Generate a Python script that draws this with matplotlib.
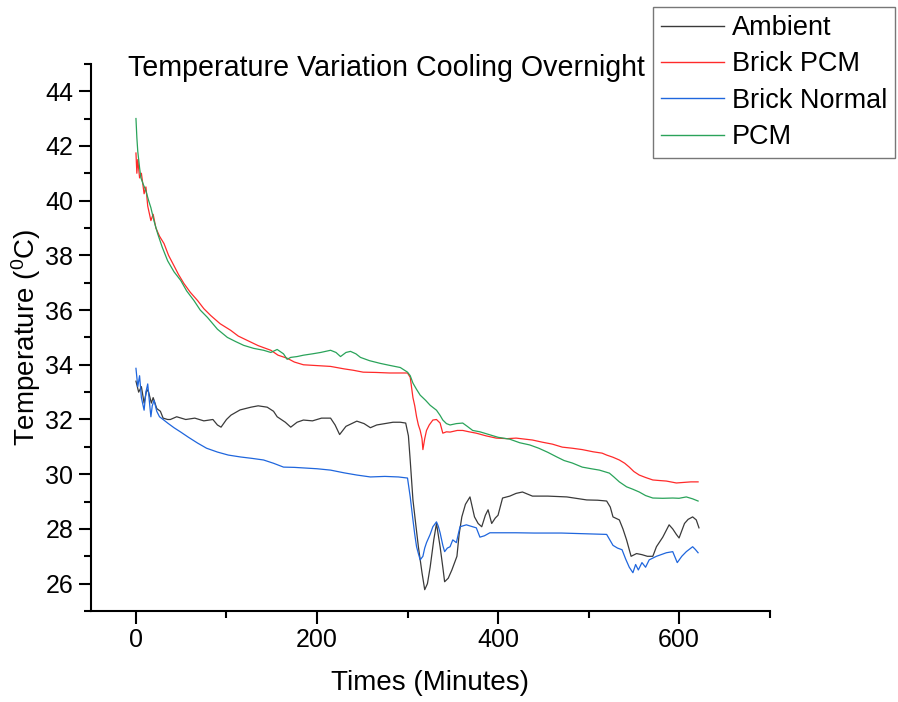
import matplotlib
matplotlib.use("Agg")
import matplotlib.pyplot as plt
from matplotlib.ticker import MultipleLocator

plt.rcParams['font.family'] = ['Liberation Sans', 'DejaVu Sans']

# Ambient
amb_t = [0, 3, 6, 9, 12, 14, 17, 19, 23, 27, 30, 35, 38, 45, 55, 65, 75, 85, 90, 94,
         100, 105, 115, 127, 135, 145, 152, 156, 165, 171, 178, 185, 195, 205, 215, 220,
         225, 232, 244, 252, 259, 266, 275, 284, 292, 298, 301, 303, 306, 309, 312, 316,
         319, 322, 325, 329, 332, 336, 339, 341, 345, 349, 354.6, 357, 360, 364, 369, 374,
         378, 382, 386, 389, 393, 397, 400, 405, 413, 420, 427, 438, 455, 476, 498, 510,
         520, 524, 527, 534, 538, 542, 547, 553, 559, 565, 571, 575, 582, 589, 593, 597,
         600, 606, 610, 615, 619, 622]
amb_T = [33.4, 33.0, 33.2, 32.6, 33.1, 33.0, 32.6, 32.8, 32.4, 32.3, 32.05, 32.0, 32.0,
         32.1, 32.0, 32.05, 31.95, 32.0, 31.8, 31.72, 32.0, 32.16, 32.35, 32.45, 32.5,
         32.45, 32.3, 32.1, 31.9, 31.72, 31.9, 31.98, 31.95, 32.05, 32.05, 31.8, 31.45,
         31.75, 31.94, 31.85, 31.7, 31.8, 31.85, 31.9, 31.9, 31.87, 31.4, 30.5, 29.06,
         28.2, 27.35, 26.4, 25.78, 26.0, 26.6, 27.6, 28.2, 27.35, 26.6, 26.07, 26.2, 26.5,
         27.0, 27.8, 28.44, 28.9, 29.17, 28.44, 28.2, 28.08, 28.5, 28.7, 28.2, 28.4, 28.5,
         29.13, 29.2, 29.3, 29.35, 29.2, 29.2, 29.17, 29.06, 29.05, 29.02, 28.8, 28.44,
         28.33, 28.0, 27.6, 27.0, 27.1, 27.06, 27.0, 27.0, 27.35, 27.7, 28.15, 28.0, 27.8,
         27.67, 28.2, 28.35, 28.44, 28.33, 28.04]

# Brick PCM
bpcm_t = [0, 1, 2, 4, 6, 9, 11, 13, 16.5, 19, 22, 26, 31, 36, 42, 47, 53, 60, 68, 75,
          82.6, 93, 104.6, 113, 123, 135, 149, 157, 167, 175, 185, 200, 215, 230, 240,
          251, 265, 280, 300, 303, 306, 308, 310, 312, 314, 316, 317, 319, 321, 324, 328,
          332, 336, 339, 343, 347, 355, 361, 368, 376, 387, 398, 410, 420, 438, 449, 460,
          471, 482, 493, 505, 515, 520, 527, 534, 540, 545, 550, 556, 563, 571, 578, 586,
          597, 605, 613, 621]
bpcm_T = [41.74, 41.0, 41.5, 40.83, 41.0, 40.25, 40.5, 39.8, 39.27, 39.5, 39.0, 38.7,
          38.43, 38.0, 37.62, 37.3, 36.97, 36.65, 36.35, 36.05, 35.8, 35.5, 35.26, 35.05,
          34.89, 34.7, 34.53, 34.35, 34.24, 34.1, 34.0, 33.97, 33.94, 33.85, 33.8, 33.73,
          33.72, 33.7, 33.7, 33.54, 32.8, 32.5, 32.1, 31.8, 31.6, 31.3, 30.9, 31.3, 31.6,
          31.8, 31.98, 32.0, 31.87, 31.5, 31.55, 31.54, 31.6, 31.6, 31.55, 31.5, 31.4,
          31.32, 31.3, 31.32, 31.25, 31.17, 31.1, 30.99, 30.95, 30.9, 30.82, 30.77, 30.7,
          30.62, 30.52, 30.4, 30.26, 30.1, 29.97, 29.88, 29.79, 29.77, 29.75, 29.68, 29.7,
          29.72, 29.72]

# Brick Normal
bn_t = [0, 2, 4, 6, 9, 11, 13, 15, 16.5, 18, 20, 23, 26, 30, 35, 42, 49.5, 58, 68, 78,
        90, 102, 115.6, 128, 141, 152, 163, 175, 185, 200, 215, 230, 244, 259, 275, 290,
        300, 303, 306, 308, 310, 312, 314, 317, 319, 321, 325, 328, 332, 334, 336, 339,
        341, 344, 347, 350, 354, 356, 358, 365, 370, 376, 380, 385, 391, 405, 420, 440,
        470, 500, 520, 527, 532, 537, 541, 545, 549, 552, 555, 559, 563, 567, 575, 586,
        593, 598, 603, 608, 615, 618, 621]
bn_T = [33.87, 33.2, 33.6, 32.8, 32.34, 33.0, 33.3, 32.6, 32.1, 32.5, 32.7, 32.3, 32.1,
        32.0, 31.87, 31.7, 31.54, 31.35, 31.14, 30.95, 30.81, 30.7, 30.63, 30.58, 30.52,
        30.4, 30.26, 30.25, 30.23, 30.2, 30.15, 30.05, 29.97, 29.9, 29.92, 29.9, 29.86,
        29.17, 28.33, 27.8, 27.35, 27.1, 26.87, 27.0, 27.3, 27.5, 27.8, 28.08, 28.26,
        28.1, 27.86, 27.4, 27.17, 27.3, 27.35, 27.6, 27.5, 27.8, 28.08, 28.15, 28.1,
        28.04, 27.7, 27.75, 27.86, 27.86, 27.86, 27.85, 27.85, 27.82, 27.8, 27.4, 27.3,
        27.24, 26.9, 26.6, 26.4, 26.7, 26.5, 26.77, 26.6, 26.87, 27.0, 27.13, 27.17,
        26.77, 27.0, 27.17, 27.35, 27.25, 27.13]

# PCM
pcm_t = [0, 1, 2, 4, 5.5, 8, 11, 14, 16.5, 20, 24, 29, 35, 42, 49.5, 56, 64, 71, 79, 90,
         101, 110, 119, 130, 141, 149, 156, 163, 167, 171, 178, 185, 195, 204, 215, 221,
         226, 232, 237, 243, 248, 258, 270, 280, 292, 300, 303, 306, 310, 314, 320, 325,
         332, 336, 339, 343, 347, 354, 361, 366, 372, 380, 388, 400, 413, 424, 435, 445,
         455, 465, 473, 482, 493, 503, 512, 523, 528, 534, 542, 549, 556, 563, 571, 582,
         593, 600, 608, 615, 621]
pcm_T = [43.0, 42.3, 41.8, 41.2, 40.83, 40.6, 40.36, 40.0, 39.74, 39.25, 38.79, 38.3,
         37.8, 37.4, 37.08, 36.7, 36.35, 36.0, 35.73, 35.3, 35.0, 34.85, 34.71, 34.6,
         34.53, 34.45, 34.56, 34.4, 34.2, 34.27, 34.3, 34.35, 34.4, 34.45, 34.53, 34.45,
         34.3, 34.45, 34.49, 34.4, 34.27, 34.15, 34.05, 33.98, 33.9, 33.73, 33.6, 33.33,
         33.1, 32.89, 32.7, 32.52, 32.34, 32.15, 31.98, 31.85, 31.8, 31.85, 31.87, 31.75,
         31.6, 31.55, 31.47, 31.35, 31.28, 31.15, 31.07, 30.95, 30.8, 30.63, 30.5, 30.41,
         30.26, 30.2, 30.15, 30.04, 29.9, 29.72, 29.54, 29.45, 29.35, 29.22, 29.13, 29.12,
         29.13, 29.12, 29.17, 29.1, 29.02]

fig = plt.figure(figsize=(8.98, 7.02), dpi=100)
ax = fig.add_axes([0.101, 0.1296, 0.756, 0.7795])

ax.plot(amb_t, amb_T, color='#3a3a3a', lw=0.9, label='Ambient')
ax.plot(bpcm_t, bpcm_T, color='#ff2a2a', lw=0.9, label='Brick PCM')
ax.plot(bn_t, bn_T, color='#1f66dd', lw=0.9, label='Brick Normal')
ax.plot(pcm_t, pcm_T, color='#2aa35a', lw=0.9, label='PCM')

ax.set_xlim(-50, 700)
ax.set_ylim(25, 45)
ax.xaxis.set_major_locator(MultipleLocator(200))
ax.xaxis.set_minor_locator(MultipleLocator(100))
ax.yaxis.set_major_locator(MultipleLocator(2))
ax.yaxis.set_minor_locator(MultipleLocator(1))

for s in ['top', 'right']:
    ax.spines[s].set_visible(False)
for s in ['left', 'bottom']:
    ax.spines[s].set_linewidth(1.5)
ax.tick_params(which='major', length=9, width=1.5, labelsize=18, direction='out')
ax.tick_params(which='minor', length=5, width=1.5, direction='out')

ax.set_xlabel('Times (Minutes)', fontsize=20, labelpad=13)
ax.set_ylabel('Temperature ($\\mathregular{^{0}}$C)', fontsize=20, labelpad=2)

fig.text(128 / 898, 1 - 68 / 702, 'Temperature Variation Cooling Overnight',
         fontsize=20.6, ha='left', va='center')

leg = ax.legend(loc='upper right', bbox_to_anchor=(0.997, 0.99),
                bbox_transform=fig.transFigure, fontsize=19.5, frameon=True,
                fancybox=False, handlelength=2.3, handletextpad=0.3,
                labelspacing=0.38, borderpad=0.3, borderaxespad=0)
leg.get_frame().set_edgecolor('#555555')
leg.get_frame().set_linewidth(1.0)
for line in leg.get_lines():
    line.set_linewidth(1.0)

fig.savefig('out.png', dpi=100)
plt.close(fig)
